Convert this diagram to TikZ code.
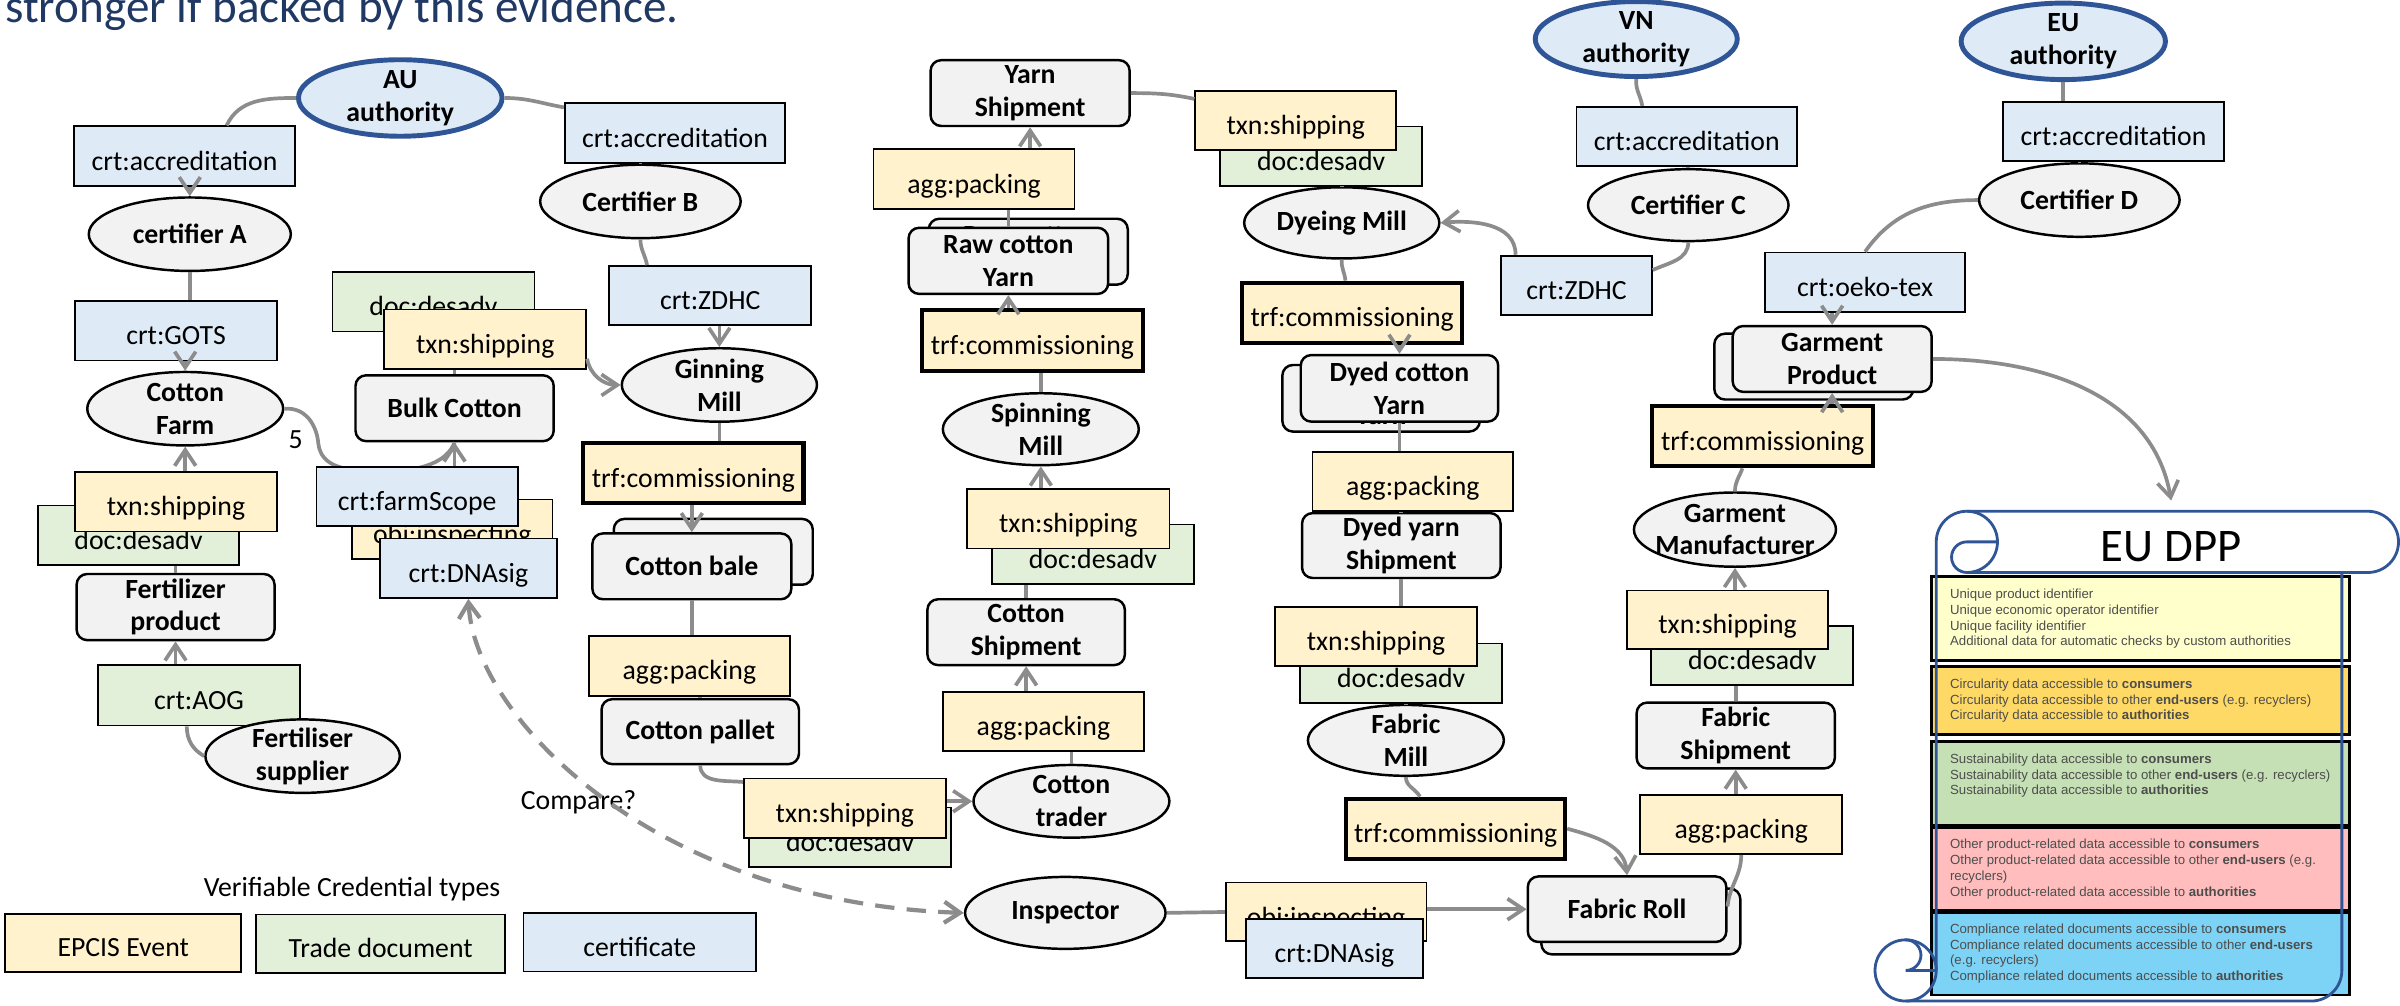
\documentclass[tikz,border=0pt]{standalone}
\usepackage{fontspec}
\setmainfont{Carlito}
\newfontfamily\dppfont{Liberation Sans}
\usetikzlibrary{shapes.geometric,arrows.meta,calc}

\definecolor{certblue}{HTML}{DEEBF7}
\definecolor{evtyellow}{HTML}{FFF2CC}
\definecolor{docgreen}{HTML}{E2F0D9}
\definecolor{nodegray}{HTML}{F2F2F2}
\definecolor{authblue}{HTML}{2F5597}
\definecolor{linkgray}{HTML}{8C8C8C}
\definecolor{titleblue}{HTML}{203864}
\definecolor{dppyellow}{HTML}{FFFFCC}
\definecolor{dpporange}{HTML}{FFD966}
\definecolor{dppgreen}{HTML}{C5E0B4}
\definecolor{dpppink}{HTML}{FFBDBD}
\definecolor{dppblue}{HTML}{7DD3F5}
\definecolor{dpptext}{HTML}{4D4D4D}

\tikzset{
  sz/.style 2 args={minimum width=#1*0.015306cm, minimum height=#2*0.015306cm},
  cred/.style={rectangle, draw=black, line width=0.5pt, inner xsep=1pt, inner ysep=0pt,
               text height=9pt, text depth=1pt, sz={132}{38.7}},
  crt/.style={cred, fill=certblue},
  evt/.style={cred, fill=evtyellow},
  doc/.style={cred, fill=docgreen},
  trf/.style={cred, fill=evtyellow, line width=1.2pt, sz={144}{39.2}},
  actor/.style={ellipse, draw=black, line width=0.7pt, fill=nodegray,
                font=\bfseries\fontsize{7.9}{9.3}\selectfont,
                inner xsep=-14pt, inner ysep=-3pt, sz={128}{47}},
  authority/.style={actor, draw=authblue, fill=certblue, line width=1.4pt},
  thing/.style={rectangle, rounded corners=3pt, draw=black, line width=0.7pt, fill=nodegray,
                font=\bfseries\fontsize{7.9}{9.3}\selectfont, inner xsep=1pt, inner ysep=0.5pt,
                sz={130}{43}},
  link/.style={draw=linkgray, line width=1.05pt},
  arr/.style={link, arrows={-Straight Barb[length=4.5pt,width=6pt]}},
  cmplink/.style={link, line width=1.2pt, dash pattern=on 5.5pt off 3.5pt,
                  arrows={Straight Barb[length=4.5pt,width=6pt]-Straight Barb[length=4.5pt,width=6pt]}},
  dppbox/.style={rectangle, draw=black, line width=0.8pt, sz={273}{#1}},
  dpptxt/.style={anchor=west, align=left, inner sep=0pt, text=dpptext,
                 font=\dppfont\fontsize{3.76}{4.49}\selectfont},
  scroll/.style={draw=authblue, line width=0.8pt},
}

\begin{document}
\begin{tikzpicture}[x=0.015306cm, y=-0.015306cm,
  every node/.style={font=\fontsize{7.9}{9.3}\selectfont, align=center}]
\useasboundingbox (0,0) rectangle (1568,657);
\clip (0,0) rectangle (1568,657);

% ---------- heading
\node[anchor=base west, inner sep=0pt, text=titleblue, font=\fontsize{13.4}{16}\selectfont]
  (title) at (3,15) {stronger if backed by this evidence.};

% ---------- digital product passport
\node[dppbox=54.8, fill=dppyellow] (dppY) at (1398.5,404.2) {};
\node[dppbox=44.2, fill=dpporange] (dppO) at (1398.5,457.7) {};
\node[dppbox=54.4, fill=dppgreen]  (dppG) at (1398.5,511.8) {};
\node[dppbox=54.5, fill=dpppink]   (dppP) at (1398.5,567.8) {};
\node[dppbox=54.2, fill=dppblue]   (dppB) at (1398.5,623) {};

\node[dpptxt] (dppYt) at ($(dppY.west)+(12.5,0)$) {Unique product identifier\\Unique economic operator identifier\\Unique facility identifier\\Additional data for automatic checks by custom authorities};
\node[dpptxt] (dppOt) at ($(dppO.west)+(12.5,0)$) {Circularity data accessible to \textbf{consumers}\\Circularity data accessible to other \textbf{end-users} (e.g. recyclers)\\Circularity data accessible to \textbf{authorities}};
\node[dpptxt] (dppGt) at ($(dppG.west)+(12.5,-5)$) {Sustainability data accessible to \textbf{consumers}\\Sustainability data accessible to other \textbf{end-users} (e.g. recyclers)\\Sustainability data accessible to \textbf{authorities}};
\node[dpptxt] (dppPt) at ($(dppP.west)+(12.5,0)$) {Other product-related data accessible to \textbf{consumers}\\Other product-related data accessible to other \textbf{end-users} (e.g.\\recyclers)\\Other product-related data accessible to \textbf{authorities}};
\node[dpptxt] (dppBt) at ($(dppB.west)+(12.5,0)$) {Compliance related documents accessible to \textbf{consumers}\\Compliance related documents accessible to other \textbf{end-users}\\(e.g. recyclers)\\Compliance related documents accessible to \textbf{authorities}};

% scroll outline
\draw[scroll] (1265,634) -- (1265,354) arc[start angle=180, end angle=90, radius=0.30612cm]
  -- (1547,334) arc[start angle=90, end angle=-90, radius=0.30612cm] -- (1285,374);
\draw[scroll] (1285,334) arc[start angle=90, end angle=-90, radius=0.30612cm];
\draw[scroll] (1305,354) -- (1285,354) arc[start angle=90, end angle=270, radius=0.15306cm];
\draw[scroll] (1530,374) -- (1530,634) arc[start angle=0, end angle=-90, radius=0.30612cm] -- (1245,654);
\draw[scroll] (1245,634) circle[radius=0.30612cm];
\draw[scroll] (1245,614) arc[start angle=90, end angle=-90, radius=0.15306cm] -- (1265,634);
\node[anchor=base, inner sep=0pt, font=\fontsize{13.3}{16}\selectfont] (dpptitle) at (1418.5,367) {EU DPP};
\coordinate (dppin) at (1418.5,327);

% ---------- trade documents (behind their events)
\node[doc] (docB)  at (283.2,197.2) {doc:desadv};
\node[doc, sz={131}{38.9}] (docL)  at (90.5,349.7) {doc:desadv};
\node[doc] (doc2)  at (555.4,546.9) {doc:desadv};
\node[doc] (docsp) at (714,362) {doc:desadv};
\node[doc] (docdy) at (863.1,102) {doc:desadv};
\node[doc] (docd)  at (915.4,439.7) {doc:desadv};
\node[doc] (docg)  at (1144.8,428.4) {doc:desadv};

% ---------- stacked copies of products
\node[thing] (baleback) at (466,360.5) {};
\node[thing] (rcyback) at (671.8,164.4) {Raw cotton\\Yarn};
\node[thing, sz={129}{43.5}] (dcyback) at (902.3,260.2) {Dyed cotton\\Yarn};
\node[thing] (gprodback) at (1185,239.5) {Garment\\Product};
\node[thing] (frollback) at (1072,602) {};

% ---------- authorities and certifiers
\node[authority, sz={133}{50}] (au) at (261.5,64) {AU\\authority};
\node[authority, sz={132}{49}] (vn) at (1069,25.5) {VN\\authority};
\node[authority, sz={133.5}{50}] (eu) at (1348,27) {EU\\authority};

\node[crt, sz={144}{39}] (accL) at (120.5,102) {crt:accreditation};
\node[crt, sz={144}{39}] (accR) at (441,87) {crt:accreditation};
\node[crt, sz={144}{38.5}] (accVN) at (1102,89) {crt:accreditation};
\node[crt, sz={144.4}{38.8}] (accEU) at (1380.8,85.8) {crt:accreditation};

\node[actor, sz={132}{48}] (certA) at (124,153) {certifier A};
\node[actor, sz={131}{48}] (certB) at (418.4,131.6) {Certifier B};
\node[actor, sz={131}{47}] (certC) at (1103,134) {Certifier C};
\node[actor, sz={131}{48}] (certD) at (1358.5,130.7) {Certifier D};

\node[crt, sz={132}{39}] (gots) at (115,216) {crt:GOTS};
\node[crt, sz={132}{38.5}] (zl) at (464,193) {crt:ZDHC};
\node[crt, sz={98.4}{38.8}] (zr) at (1030,186.4) {crt:ZDHC};
\node[crt, sz={131}{39}] (oeko) at (1218.5,184.5) {crt:oeko-tex};

% ---------- farm side
\node[actor, sz={128}{48}] (farm) at (121,267) {Cotton\\Farm};
\node[evt, sz={131.7}{38.9}] (txnL) at (115,327.8) {txn:shipping};
\node[thing, sz={129.3}{43.2}] (fert) at (114.7,396.6) {Fertilizer\\product};
\node[doc, sz={131.7}{39.3}] (aog) at (130,454.3) {crt:AOG};
\node[actor, sz={127}{48}] (fsup) at (197.7,494) {Fertiliser\\supplier};
\node[evt] (txnB) at (317,221.6) {txn:shipping};
\node[thing, sz={129.5}{43}] (bulk) at (297,266.7) {Bulk Cotton};

% ---------- ginning and spinning
\node[actor, sz={127.5}{48}] (gin) at (470,251.5) {Ginning\\Mill};
\node[trf] (trf1) at (453,309) {trf:commissioning};
\node[thing] (bale) at (452,370) {Cotton bale};
\node[evt, sz={131.5}{39.3}] (aggc) at (450.4,435) {agg:packing};
\node[thing, sz={129}{42.4}] (pallet) at (457.5,478) {Cotton pallet};
\node[evt] (txn2) at (552,528) {txn:shipping};
\node[actor, sz={128}{47.5}] (trader) at (700,523.5) {Cotton\\trader};
\node[evt, sz={131}{38.6}] (aggcs) at (681.7,471.3) {agg:packing};
\node[thing, sz={129}{43}] (cship) at (670.4,413) {Cotton\\Shipment};
\node[evt] (txnsp) at (698,339) {txn:shipping};
\node[actor, sz={128}{47}] (spin) at (680,280.4) {Spinning\\Mill};
\node[trf, sz={144.4}{39.7}] (trfsp) at (674.5,222.4) {trf:commissioning};
\node[thing, sz={130.4}{43.2}] (rcy) at (658.8,170.4) {Raw cotton\\Yarn};
\node[evt, sz={131.3}{39}] (aggy) at (636.4,117) {agg:packing};
\node[thing] (yship) at (673,60.8) {Yarn\\Shipment};

% ---------- dyeing and fabric
\node[evt, sz={131.3}{38.8}] (txndy) at (846.6,78.6) {txn:shipping};
\node[actor, sz={127.5}{46.5}] (dye) at (876.6,145.6) {Dyeing Mill};
\node[trf, sz={143.5}{39.2}] (trfdy) at (883.4,204.3) {trf:commissioning};
\node[thing, sz={129}{43.5}] (dcy) at (914.3,253.7) {Dyed cotton\\Yarn};
\node[evt, sz={131}{38.6}] (aggdy) at (923,314.5) {agg:packing};
\node[thing, sz={129.7}{42.4}] (dyship) at (915.5,356.4) {Dyed yarn\\Shipment};
\node[evt, sz={132}{38.5}] (txnd) at (899,416) {txn:shipping};
\node[actor, sz={128}{46.3}] (fmill) at (918.5,483.7) {Fabric\\Mill};
\node[trf, sz={143}{39.2}] (trffab) at (951,541.4) {trf:commissioning};

% ---------- inspection and garment
\node[actor, sz={131}{47}] (insp) at (696,596.4) {Inspector};
\node[evt, sz={131.2}{38.4}] (objb) at (866.4,595.8) {obj:inspecting};
\node[crt, sz={116}{38.6}] (dnab) at (871.8,619.7) {crt:DNAsig};
\node[thing, sz={129.7}{42.8}] (froll) at (1063,594) {Fabric Roll};
\node[evt, sz={132}{38.6}] (aggfab) at (1137.6,538.7) {agg:packing};
\node[thing, sz={129.5}{43}] (fship) at (1134,480.5) {Fabric\\Shipment};
\node[evt, sz={131.5}{38.4}] (txng) at (1128.7,405) {txn:shipping};
\node[actor, sz={132}{48.5}] (gman) at (1133.5,346) {Garment\\Manufacturer};
\node[trf, sz={144.4}{39.2}] (trfg) at (1151.6,285) {trf:commissioning};
\node[thing] (gprod) at (1197,234.5) {Garment\\Product};

% farm to bulk cotton, partly hidden behind the farm scope certificate
\draw[link] (farm.east) .. controls (200,266) and (207,278) .. (208,290)
  .. controls (210,305) and (225,308) .. (250,308)
  .. controls (275,308) and (292,302) .. (bulk.south);

\node[evt, sz={131}{38.8}] (objt) at (295.5,345.8) {obj:inspecting};
\node[crt, sz={131.6}{38.8}] (scope) at (272.5,324.3) {crt:farmScope};
\node[crt, sz={115.7}{38.9}] (dnat) at (306,371.2) {crt:DNAsig};

% ---------- legend
\node (legtitle) at (230,580.8) {Verifiable Credential types};
\node[evt, sz={154.3}{38}] (legE) at (80.5,616) {EPCIS Event};
\node[doc, sz={162.7}{38.4}] (legD) at (248.7,616.6) {Trade document};
\node[crt, sz={152}{38.4}] (legC) at (418,615.5) {certificate};

% ---------- labels
\node (five) at (193.2,287.5) {5};
\node (cmp) at (378,524) {Compare?};

% ---------- connectors
\draw[link] (au.west) to[out=180,in=65] ($(accL.north west)!.69!(accL.north east)$);
\draw[link] (au.east) to[out=0,in=170] ($(accR.north west)!.08!(accR.south west)$);
\draw[arr] (accL.south -| certA.north) -- (certA.north);
\draw[link] (certA.south) -- (certA.south |- gots.north);
\draw[arr] (gots.south -| farm.north) -- (farm.north);
\draw[link] (accR.south -| certB.north) -- (certB.north);
\draw[link] (certB.south) to[out=-90,in=100] ($(zl.north west)!.19!(zl.north east)$);
\draw[arr] (zl.south -| gin.north) -- (gin.north);
\draw[arr] ($(txnB.north east)!.82!(txnB.south east)$) to[out=-80,in=180] (gin.west);
\draw[link] (bulk.north) -- (bulk.north |- txnB.south);
\draw[arr] (bulk.south |- scope.north) -- (bulk.south);
\draw[arr] (txnL.north -| farm.south) -- (farm.south);
\draw[link] (fert.north) -- (fert.north |- docL.south);
\draw[arr] (fert.south |- aog.north) -- (fert.south);
\draw[link] (fsup.west) to[out=150,in=-90] ($(aog.south west)!.44!(aog.south east)$);

\draw[link] (gin.south) -- (gin.south |- trf1.north);
\draw[arr] (trf1.south -| bale.north) -- (bale.north);
\draw[link] (bale.south) -- (bale.south |- aggc.north);
\draw[link] (aggc.south -| pallet.north) -- (pallet.north);
\draw[link] (pallet.south) to[out=-90,in=175] ($(txn2.north west)!.07!(txn2.south west)$);
\draw[arr] (txn2.east |- trader.west) -- (trader.west);
\draw[link] (trader.north) -- (trader.north |- aggcs.south);
\draw[arr] (cship.south |- aggcs.north) -- (cship.south);
\draw[link] (cship.north) -- (cship.north |- docsp.south);
\draw[arr] (spin.south |- txnsp.north) -- (spin.south);
\draw[link] (spin.north) -- (spin.north |- trfsp.south);
\draw[arr] (rcy.south |- trfsp.north) -- (rcy.south);
\draw[link] (rcy.north) -- (rcy.north |- aggy.south);
\draw[arr] (yship.south |- aggy.north) -- (yship.south);
\draw[link] (yship.east) to[out=0,in=168] ($(txndy.north west)!.15!(txndy.south west)$);

\draw[link] (docdy.south -| dye.north) -- (dye.north);
\draw[link] (dye.south) to[out=-95,in=95] ($(trfdy.north west)!.47!(trfdy.north east)$);
\draw[arr] (trfdy.south -| dcy.north) -- (dcy.north);
\draw[link] (dcy.south) -- (dcy.south |- aggdy.north);
\draw[link] (aggdy.south -| dyship.north) -- (dyship.north);
\draw[link] (dyship.south) -- (dyship.south |- txnd.north);
\draw[link] (docd.south -| fmill.north) -- (fmill.north);
\draw[link] (fmill.south) to[out=-90,in=120] ($(trffab.north west)!.34!(trffab.north east)$);
\draw[arr] (trffab.east) to[out=-15,in=95] (froll.north);

\draw[link] (insp.east) -- (objb.west);
\draw[arr] (objb.east |- froll.west) -- (froll.west);
\draw[link] ($(froll.north east)!.46!(froll.south east)$) to[out=85,in=-90] (aggfab.south);
\draw[arr] (fship.south |- aggfab.north) -- (fship.south);
\draw[link] (fship.north) -- (fship.north |- docg.south);
\draw[arr] (gman.south |- txng.north) -- (gman.south);
\draw[link] (gman.north) to[out=90,in=-110] ($(trfg.south west)!.41!(trfg.south east)$);
\draw[arr] (gprod.south |- trfg.north) -- (gprod.south);
\draw[arr] (oeko.south -| gprod.north) -- (gprod.north);
\draw[link] (certD.west) to[out=180,in=55] (oeko.north);
\draw[link] (accEU.south -| certD.north) -- (certD.north);
\draw[link] (eu.south) -- (eu.south |- accEU.north);
\draw[link] (vn.south) to[out=-95,in=100] ($(accVN.north west)!.3!(accVN.north east)$);
\draw[link] (accVN.south -| certC.north) -- (certC.north);
\draw[link] (certC.south) to[out=-90,in=25] ($(zr.north east)!.25!(zr.south east)$);
\draw[arr] ($(zr.north west)!.1!(zr.north east)$) to[out=90,in=5] (dye.east);
\draw[arr] (gprod.east) to[out=0,in=100] (dppin);

\draw[cmplink] (dnat.south) .. controls (310,470) and (430,590) .. (insp.west);
\end{tikzpicture}
\end{document}
